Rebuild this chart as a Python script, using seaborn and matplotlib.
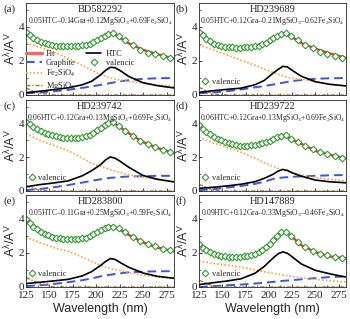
import numpy as np
import pandas as pd
import matplotlib
matplotlib.use("Agg")
import matplotlib.pyplot as plt
from matplotlib.ticker import MultipleLocator
from matplotlib.lines import Line2D
import seaborn as sns

sns.set_style("ticks")
plt.rcParams["font.family"] = ["Liberation Serif", "DejaVu Serif"]
plt.rcParams["mathtext.fontset"] = "custom"
plt.rcParams["mathtext.rm"] = "Liberation Serif"
plt.rcParams["mathtext.it"] = "Liberation Serif:italic"
plt.rcParams["mathtext.sf"] = "Liberation Sans"

# ---------------- data ----------------
panel_tags = ["(a)", "(b)", "(c)", "(d)", "(e)", "(f)"]
stars = ["BD582292", "HD239689", "HD239742", "HD239722", "HD283800", "HD147889"]
formulas = [
    "0.05HTC\u20130.14Gra+0.12MgSiO$_3$+0.69Fe$_2$SiO$_4$",
    "0.05HTC+0.12Gra\u20130.21MgSiO$_3$\u20130.62Fe$_2$SiO$_4$",
    "0.06HTC+0.12Gra+0.13MgSiO$_3$+0.69Fe$_2$SiO$_4$",
    "0.06HTC+0.12Gra+0.13MgSiO$_3$+0.69Fe$_2$SiO$_4$",
    "0.05HTC\u20130.11Gra+0.25MgSiO$_3$+0.59Fe$_2$SiO$_4$",
    "0.09HTC+0.12Gra\u20130.33MgSiO$_3$\u20130.46Fe$_2$SiO$_4$",
]

wl = [125, 140, 155, 170, 185, 195, 205, 210, 215, 220, 225, 235, 250, 265, 285]

fit = [
    [3.63, 3.15, 2.90, 2.85, 2.92, 3.05, 3.35, 3.52, 3.63, 3.55, 3.38, 3.02, 2.65, 2.40, 2.10],
    [3.63, 3.00, 2.82, 2.80, 2.85, 3.00, 3.30, 3.47, 3.62, 3.60, 3.40, 3.05, 2.72, 2.45, 2.15],
    [4.08, 3.60, 3.28, 3.14, 3.18, 3.40, 3.75, 3.92, 4.08, 4.00, 3.80, 3.42, 2.90, 2.56, 2.20],
    [3.88, 3.25, 2.85, 2.70, 2.72, 2.85, 3.05, 3.20, 3.30, 3.20, 3.05, 2.80, 2.38, 2.15, 1.92],
    [4.02, 3.30, 2.95, 2.80, 2.85, 3.05, 3.32, 3.48, 3.57, 3.52, 3.38, 3.05, 2.62, 2.32, 2.06],
    [2.55, 2.00, 1.78, 1.76, 1.95, 2.20, 2.70, 3.00, 3.24, 3.15, 2.95, 2.45, 2.05, 1.80, 1.66],
]
htc = [
    [0.14, 0.22, 0.32, 0.42, 0.60, 0.80, 1.20, 1.45, 1.63, 1.60, 1.45, 1.08, 0.72, 0.55, 0.40],
    [0.16, 0.25, 0.33, 0.40, 0.60, 0.85, 1.30, 1.50, 1.68, 1.65, 1.45, 1.10, 0.78, 0.63, 0.52],
    [0.25, 0.38, 0.48, 0.60, 0.90, 1.20, 1.58, 1.85, 2.02, 1.95, 1.78, 1.40, 0.92, 0.70, 0.52],
    [0.16, 0.22, 0.30, 0.40, 0.55, 0.75, 1.00, 1.18, 1.28, 1.22, 1.08, 0.88, 0.65, 0.55, 0.48],
    [0.20, 0.28, 0.36, 0.45, 0.65, 0.90, 1.28, 1.50, 1.67, 1.62, 1.45, 1.15, 0.82, 0.63, 0.50],
    [0.14, 0.25, 0.35, 0.48, 0.80, 1.20, 1.72, 1.95, 2.06, 1.98, 1.78, 1.35, 0.98, 0.78, 0.56],
]
graphite = [
    [0.10, 0.15, 0.22, 0.30, 0.42, 0.50, 0.60, 0.65, 0.70, 0.75, 0.80, 0.87, 0.95, 0.98, 1.00],
    [0.10, 0.15, 0.22, 0.32, 0.45, 0.52, 0.62, 0.67, 0.72, 0.77, 0.82, 0.88, 0.95, 0.98, 1.00],
    [0.05, 0.12, 0.22, 0.35, 0.50, 0.60, 0.70, 0.74, 0.78, 0.80, 0.83, 0.86, 0.88, 0.90, 0.90],
    [0.05, 0.10, 0.20, 0.30, 0.42, 0.55, 0.72, 0.77, 0.80, 0.82, 0.84, 0.87, 0.90, 0.93, 0.95],
    [0.05, 0.10, 0.18, 0.28, 0.40, 0.50, 0.63, 0.68, 0.72, 0.76, 0.80, 0.86, 0.90, 0.92, 0.93],
    [0.00, 0.05, 0.10, 0.14, 0.20, 0.25, 0.30, 0.33, 0.36, 0.38, 0.40, 0.45, 0.52, 0.58, 0.63],
]
fe2sio4 = [
    [3.05, 2.80, 2.50, 2.15, 1.75, 1.45, 1.20, 1.10, 1.00, 0.93, 0.88, 0.80, 0.70, 0.60, 0.50],
    [2.94, 2.65, 2.35, 2.05, 1.75, 1.52, 1.32, 1.22, 1.12, 1.04, 0.98, 0.92, 0.80, 0.65, 0.53],
    [3.40, 3.00, 2.70, 2.40, 1.95, 1.65, 1.45, 1.36, 1.27, 1.18, 1.10, 0.95, 0.80, 0.68, 0.55],
    [3.20, 2.85, 2.60, 2.30, 1.95, 1.68, 1.45, 1.35, 1.25, 1.17, 1.10, 0.95, 0.80, 0.70, 0.60],
    [2.94, 2.60, 2.30, 2.10, 1.75, 1.50, 1.27, 1.17, 1.08, 1.02, 0.97, 0.85, 0.70, 0.58, 0.49],
    [1.53, 1.38, 1.28, 1.18, 1.00, 0.90, 0.80, 0.75, 0.70, 0.66, 0.62, 0.55, 0.45, 0.37, 0.29],
]
mgsio3 = [
    [0.40, 0.10, 0.00, 0.00, 0.00, 0.00, 0.00, 0.00, 0.00, 0.00, 0.00, 0.00, 0.00, 0.00, 0.00],
    [0.45, 0.05, 0.00, 0.00, 0.00, 0.00, 0.00, 0.00, 0.00, 0.00, 0.00, 0.00, 0.00, 0.00, 0.00],
    [0.30, 0.05, 0.00, 0.00, 0.00, 0.00, 0.00, 0.00, 0.00, 0.00, 0.00, 0.00, 0.00, 0.00, 0.00],
    [0.40, 0.05, 0.00, 0.00, 0.00, 0.00, 0.00, 0.00, 0.00, 0.00, 0.00, 0.00, 0.00, 0.00, 0.00],
    [0.55, 0.20, 0.00, 0.00, 0.00, 0.00, 0.00, 0.00, 0.00, 0.00, 0.00, 0.00, 0.00, 0.00, 0.00],
    [0.40, 0.05, 0.00, 0.00, 0.00, 0.00, 0.00, 0.00, 0.00, 0.00, 0.00, 0.00, 0.00, 0.00, 0.00],
]

obs_wl = [125, 129, 133, 137, 141, 145, 149, 153, 157, 161, 165, 169, 173, 177, 181, 185,
          189, 193, 197, 201, 205, 209, 213, 218, 224, 231, 239, 247, 255, 263, 271, 279]
valencic = [
    [3.70, 3.50, 3.37, 3.25, 3.13, 3.05, 2.97, 2.92, 2.89, 2.87, 2.86, 2.85, 2.86, 2.87, 2.90, 2.92,
     2.96, 3.02, 3.10, 3.22, 3.35, 3.49, 3.60, 3.65, 3.45, 3.20, 2.92, 2.65, 2.48, 2.38, 2.27, 2.20],
    [3.70, 3.50, 3.30, 3.15, 3.02, 2.93, 2.87, 2.83, 2.80, 2.79, 2.78, 2.78, 2.79, 2.80, 2.82, 2.85,
     2.90, 2.97, 3.07, 3.20, 3.32, 3.46, 3.58, 3.65, 3.47, 3.20, 2.95, 2.75, 2.55, 2.42, 2.30, 2.20],
    [4.10, 3.95, 3.80, 3.68, 3.57, 3.47, 3.39, 3.32, 3.26, 3.20, 3.16, 3.14, 3.13, 3.13, 3.15, 3.18,
     3.25, 3.33, 3.45, 3.60, 3.75, 3.90, 4.03, 4.08, 3.85, 3.55, 3.25, 2.98, 2.78, 2.60, 2.42, 2.32],
    [3.90, 3.70, 3.52, 3.38, 3.22, 3.10, 3.00, 2.90, 2.82, 2.76, 2.72, 2.70, 2.69, 2.70, 2.71, 2.72,
     2.76, 2.82, 2.90, 2.98, 3.08, 3.20, 3.28, 3.30, 3.10, 2.92, 2.70, 2.50, 2.32, 2.20, 2.08, 1.98],
    [4.00, 3.75, 3.55, 3.38, 3.25, 3.12, 3.03, 2.96, 2.90, 2.86, 2.83, 2.81, 2.80, 2.80, 2.82, 2.85,
     2.90, 2.97, 3.10, 3.22, 3.33, 3.45, 3.55, 3.55, 3.48, 3.20, 2.95, 2.70, 2.52, 2.38, 2.25, 2.15],
    [2.50, 2.30, 2.15, 2.05, 1.96, 1.90, 1.84, 1.80, 1.77, 1.76, 1.76, 1.77, 1.80, 1.83, 1.88, 1.95,
     2.05, 2.17, 2.35, 2.55, 2.75, 3.00, 3.20, 3.25, 3.00, 2.65, 2.35, 2.10, 1.95, 1.85, 1.75, 1.68],
]

xticks = [125, 150, 175, 200, 225, 250, 275]
yticks = [0, 2, 4]

# ---------------- styles ----------------
C_FIT = "#e8332e"
C_HTC = "black"
C_GRA = "#3a55e8"
C_FE = "#ffa23a"
C_MG = "#a8782a"
C_OBS = "#2e9e2e"

fig = plt.figure(figsize=(3.5, 3.19), dpi=100)
W, H = 350, 319
cols = [(26, 174), (199, 346)]
rows = [(3, 95), (100, 191), (195, 287)]

for i in range(6):
    r, c = divmod(i, 2)
    x0, x1 = cols[c]
    y0, y1 = rows[r]
    ax = fig.add_axes([x0 / W, 1 - y1 / H, (x1 - x0) / W, (y1 - y0) / H])

    df = pd.DataFrame({"wl": wl, "fit": fit[i], "htc": htc[i], "gra": graphite[i],
                       "fe": fe2sio4[i], "mg": mgsio3[i]})
    dobs = pd.DataFrame({"wl": obs_wl, "obs": valencic[i]})

    sns.lineplot(data=df, x="wl", y="gra", ax=ax, color=C_GRA, lw=1.4,
                 linestyle=(0, (4.5, 2.5)), label="Graphite")
    sns.lineplot(data=df, x="wl", y="fe", ax=ax, color=C_FE, lw=1.2,
                 linestyle=(0, (1, 1.2)), label="Fe$_2$SiO$_4$")
    sns.lineplot(data=df, x="wl", y="mg", ax=ax, color=C_MG, lw=1.0,
                 linestyle=(0, (3, 1.2, 1, 1.2)), label="MgSiO$_3$")
    sns.lineplot(data=df, x="wl", y="htc", ax=ax, color=C_HTC, lw=1.2, label="HTC")
    sns.lineplot(data=df, x="wl", y="fit", ax=ax, color=C_FIT, lw=1.7, label="Fit")
    sns.lineplot(data=dobs, x="wl", y="obs", ax=ax, color=C_OBS, linestyle="none",
                 marker="D", markersize=3.4, markerfacecolor="white",
                 markeredgecolor=C_OBS, markeredgewidth=0.8, label="valencic")

    ax.set_xlim(125, 283)
    ax.set_ylim(0, 5.4)
    ax.set_xticks(xticks)
    ax.set_yticks(yticks)
    ax.xaxis.set_minor_locator(MultipleLocator(12.5))
    ax.yaxis.set_minor_locator(MultipleLocator(1))
    ax.tick_params(which="both", direction="in", labelsize=8)
    ax.tick_params(axis="y", pad=1.5)
    ax.tick_params(axis="x", pad=3)
    ax.tick_params(which="major", length=2.5, width=0.6)
    ax.tick_params(which="minor", length=1.5, width=0.5)
    for s in ax.spines.values():
        s.set_linewidth(0.6)
    if r < 2:
        ax.set_xticklabels([])
        ax.set_xlabel("")
    else:
        ax.set_xlabel("Wavelength (nm)", fontsize=9, family="Liberation Sans", labelpad=2)
    ax.set_ylabel(r"A$^{\mathsf{\lambda}}$/A$^{\mathsf{V}}$", fontsize=9,
                  family="Liberation Sans", labelpad=1)

    ax.text(0.5, 0.925, stars[i], transform=ax.transAxes, ha="center", va="center", fontsize=7.5)
    ax.text(0.5, 0.80, formulas[i], transform=ax.transAxes, ha="center", va="center", fontsize=5.5)
    fig.text((x0 - 23) / W, 1 - (y0 + 6) / H, panel_tags[i], ha="left", va="center", fontsize=8)

    ax.get_legend().remove()
    handles = {h.get_label(): h for h in ax.get_lines()}
    if i == 0:
        blank = Line2D([], [], color="none")
        order = ["Fit", "Graphite", "Fe$_2$SiO$_4$", "MgSiO$_3$", "HTC", "valencic"]
        hs = [handles.get(lab) for lab in order]
        hs[0] = Line2D([], [], color="#f06a66", lw=2.4)
        hs = hs + [blank, blank]
        labs = order + ["", ""]
        ax.legend(hs, labs, ncol=2, loc="upper left", bbox_to_anchor=(0.0, 0.49),
                  frameon=False, fontsize=6, handlelength=1.9, handletextpad=0.5,
                  labelspacing=0.12, columnspacing=1.2, borderpad=0, borderaxespad=0)
    else:
        ax.legend([handles["valencic"]], ["valencic"], loc="center left",
                  bbox_to_anchor=(0.0, 0.14), frameon=False, fontsize=6,
                  handlelength=1.4, handletextpad=0.1, borderpad=0, borderaxespad=0)

fig.savefig("out.png", dpi=100)
